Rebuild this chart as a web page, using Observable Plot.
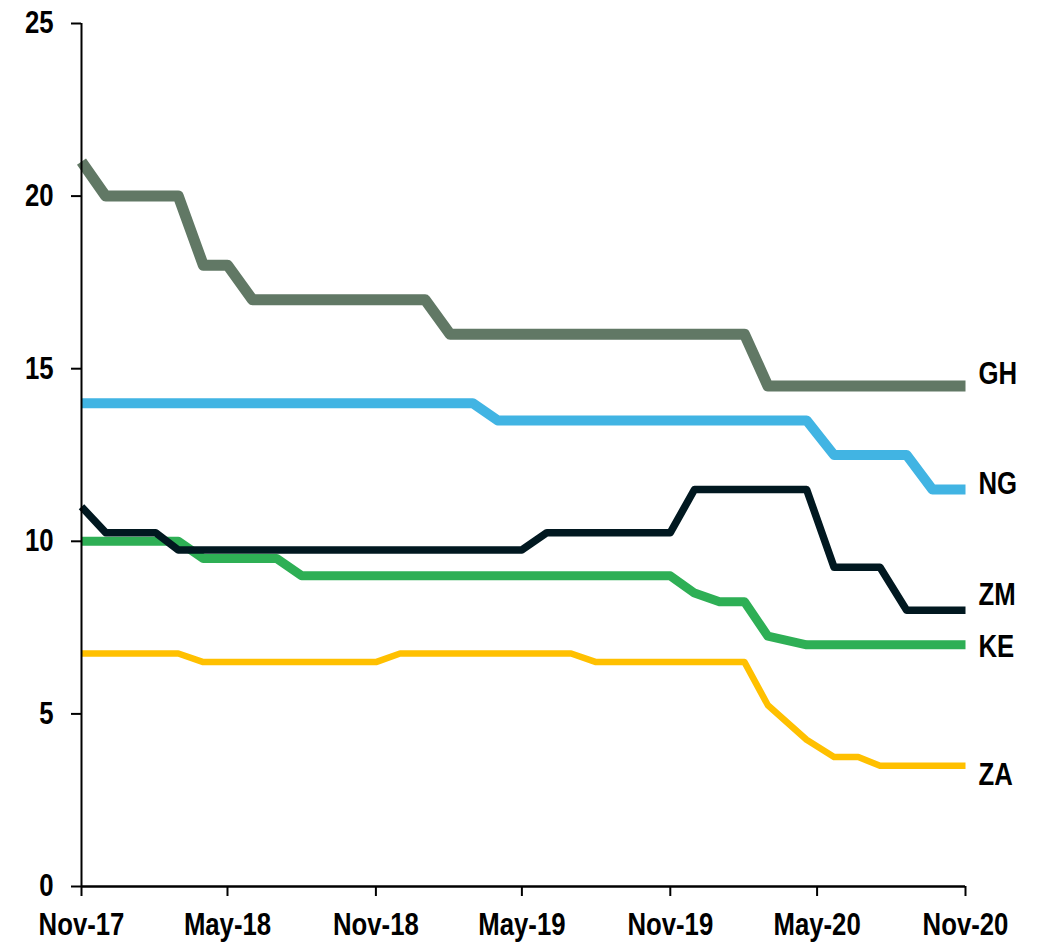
<!DOCTYPE html>
<html>
<head>
<meta charset="utf-8">
<script src="https://cdn.jsdelivr.net/npm/d3@7"></script>
<script src="https://cdn.jsdelivr.net/npm/@observablehq/plot@0.6"></script>
<style>
  html, body { margin: 0; padding: 0; background: #fff; }
  #chart svg { display: block; }
</style>
</head>
<body>
<div id="chart"></div>
<script>
// ---- Data (policy rates, %) ----
const ghDates  = ["2017-11-01","2017-12-01","2018-03-01","2018-04-01","2018-05-01","2018-06-01","2019-01-01","2019-02-01","2020-02-01","2020-03-01","2020-11-01"];
const ghValues = [21, 20, 20, 18, 18, 17, 17, 16, 16, 14.5, 14.5];

const ngDates  = ["2017-11-01","2019-03-01","2019-04-01","2020-04-18","2020-05-22","2020-08-20","2020-09-21","2020-11-01"];
const ngValues = [14, 14, 13.5, 13.5, 12.5, 12.5, 11.5, 11.5];

const zmDates  = ["2017-11-01","2017-12-01","2018-02-01","2018-03-01","2019-05-01","2019-06-01","2019-11-01","2019-12-01","2020-04-18","2020-05-22","2020-07-18","2020-08-20","2020-11-01"];
const zmValues = [11, 10.25, 10.25, 9.75, 9.75, 10.25, 10.25, 11.5, 11.5, 9.25, 9.25, 8, 8];

const keDates  = ["2017-11-01","2018-03-01","2018-04-01","2018-07-01","2018-08-01","2019-11-01","2019-12-01","2020-01-01","2020-02-01","2020-03-01","2020-04-18","2020-11-01"];
const keValues = [10, 10, 9.5, 9.5, 9, 9, 8.5, 8.25, 8.25, 7.25, 7, 7];

const zaDates  = ["2017-11-01","2018-03-01","2018-04-01","2018-11-01","2018-12-01","2019-07-01","2019-08-01","2020-02-01","2020-03-01","2020-04-18","2020-05-22","2020-06-21","2020-07-18","2020-11-01"];
const zaValues = [6.75, 6.75, 6.5, 6.5, 6.75, 6.75, 6.5, 6.5, 5.25, 4.25, 3.75, 3.75, 3.5, 3.5];

// Series names and colours
const seriesNames  = ["GH", "NG", "KE", "ZA", "ZM"];
const seriesColors = ["#617865", "#41b4e3", "#2eaf55", "#ffc000", "#011820"];
const seriesWidths = [11, 10, 9, 6.5, 7.5];

// End labels (label anchor value on the y scale)
const labelNames  = ["GH", "NG", "ZM", "KE", "ZA"];
const labelValues = [14.83, 11.66, 8.43, 6.94, 3.23];

// Axis ticks
const xTickDates = ["2017-11-01","2018-05-01","2018-11-01","2019-05-01","2019-11-01","2020-05-01","2020-11-01"];
const yTicks = [0, 5, 10, 15, 20, 25];
const xDomain = ["2017-11-01", "2020-11-01"];

// ---- Build tables ----
const parse = d3.utcParse("%Y-%m-%d");
const seriesData = {
  GH: ghDates.map((d, i) => ({country: "GH", date: parse(d), value: ghValues[i]})),
  NG: ngDates.map((d, i) => ({country: "NG", date: parse(d), value: ngValues[i]})),
  ZM: zmDates.map((d, i) => ({country: "ZM", date: parse(d), value: zmValues[i]})),
  KE: keDates.map((d, i) => ({country: "KE", date: parse(d), value: keValues[i]})),
  ZA: zaDates.map((d, i) => ({country: "ZA", date: parse(d), value: zaValues[i]}))
};
const endDate = parse(xDomain[1]);
const labels = labelNames.map((n, i) => ({name: n, date: endDate, value: labelValues[i]}));

const fontFamily = "'Liberation Sans Narrow','Arial Narrow','Liberation Sans',Arial,sans-serif";
const fs = 31;

const lineMarks = seriesNames.map((name, i) =>
  Plot.line(seriesData[name], {
    x: "date", y: "value",
    stroke: seriesColors[i],
    strokeWidth: seriesWidths[i],
    strokeLinejoin: "round",
    strokeLinecap: "butt"
  })
);

const chart = Plot.plot({
  width: 1038,
  height: 944,
  marginLeft: 81,
  marginRight: 73,
  marginTop: 23,
  marginBottom: 58,
  style: {fontFamily, fontWeight: "bold", fontSize: fs + "px", color: "#000", background: "#fff", overflow: "visible"},
  x: {type: "utc", domain: xDomain.map(parse)},
  y: {domain: [0, 25]},
  marks: [
    ...lineMarks,
    Plot.ruleY([0], {stroke: "#000", strokeWidth: 2.5}),
    Plot.ruleX([parse(xDomain[0])], {stroke: "#000", strokeWidth: 2}),
    Plot.axisX({
      ticks: xTickDates.map(parse),
      tickFormat: d3.utcFormat("%b-%y"),
      tickSize: 10, tickPadding: 16, strokeWidth: 2,
      label: null, fontSize: fs, fontWeight: "bold", fill: "#000"
    }),
    Plot.axisY({
      ticks: yTicks,
      tickSize: 10, tickPadding: 18, strokeWidth: 2,
      label: null, fontSize: fs, fontWeight: "bold", fill: "#000"
    }),
    Plot.text(labels, {
      x: "date", y: "value", text: "name",
      textAnchor: "start", dx: 13,
      fontSize: fs, fontWeight: "bold", fill: "#000"
    })
  ]
});

document.getElementById("chart").appendChild(chart);

// Condense the bold text horizontally (narrow bold face look) without moving anchors
const narrow = 0.83;
chart.querySelectorAll("text").forEach(t => {
  const len = t.getComputedTextLength();
  if (len > 0) {
    t.setAttribute("textLength", (len * narrow).toFixed(2));
    t.setAttribute("lengthAdjust", "spacingAndGlyphs");
  }
});
</script>
</body>
</html>
